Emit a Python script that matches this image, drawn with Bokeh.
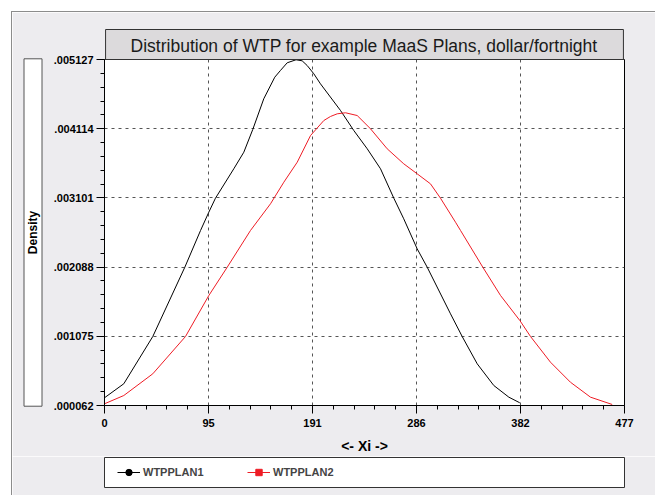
import numpy as np
from bokeh.plotting import figure
from bokeh.models import Range1d, FixedTicker, Legend, LegendItem, Title, Column
from bokeh.embed import file_html
from bokeh.resources import INLINE

# ---- data ----
x_plan1 = [-9.2, 0.0, 17.7, 44.3, 73.7, 88.1, 95.7, 101.8, 118.6, 127.8, 136.0, 146.1, 156.2,
           161.4, 167.6, 175.7, 181.3, 185.9, 192.0, 198.1, 216.5, 228.7, 241.0, 253.2, 265.4,
           274.5, 286.8, 296.0, 317.4, 328.1, 341.9, 357.1, 370.9, 380.9]
y_plan1 = [0.000091, 0.000175, 0.000380, 0.001072, 0.002087, 0.002624, 0.002892, 0.003097,
           0.003527, 0.003770, 0.004102, 0.004552, 0.004868, 0.004966, 0.005079, 0.005123,
           0.005108, 0.005039, 0.004918, 0.004771, 0.004380, 0.004087, 0.003820, 0.003527,
           0.003097, 0.002795, 0.002356, 0.002087, 0.001404, 0.001072, 0.000672, 0.000355,
           0.000184, 0.000102]
x_plan2 = [-3.7, 0.0, 17.7, 44.3, 74.3, 95.7, 112.6, 133.9, 152.3, 164.5, 176.8, 189.0, 201.2,
           207.3, 213.5, 221.1, 231.8, 244.0, 259.3, 274.5, 286.8, 299.0, 308.2, 322.0, 326.6,
           347.0, 363.3, 381.0, 390.8, 409.1, 427.4, 445.8, 465.7]
y_plan2 = [0.000077, 0.000087, 0.000208, 0.000526, 0.001072, 0.001672, 0.002087, 0.002624,
           0.003015, 0.003331, 0.003624, 0.004014, 0.004234, 0.004293, 0.004332, 0.004347,
           0.004307, 0.004113, 0.003820, 0.003600, 0.003454, 0.003307, 0.003097, 0.002745,
           0.002624, 0.002087, 0.001672, 0.001306, 0.001072, 0.000696, 0.000403, 0.000184,
           0.000077]

series_names = ["WTPPLAN1", "WTPPLAN2"]
x_ticks = [0.0, 95.4, 190.8, 286.2, 381.6, 477.0]
x_tick_labels = ["0", "95", "191", "286", "382", "477"]
y_ticks = [0.000062, 0.001075, 0.002088, 0.003101, 0.004114, 0.005127]
y_tick_labels = [".000062", ".001075", ".002088", ".003101", ".004114", ".005127"]
title_text = "Distribution of WTP for example MaaS Plans, dollar/fortnight"
x_label = "<- Xi ->"
y_label = "Density"

FONT = "Liberation Sans"
PANEL = "#edecef"
RED = "#ee1c25"

p = figure(frame_width=520, frame_height=346, output_backend="svg", toolbar_location=None,
           x_range=Range1d(x_ticks[0], x_ticks[-1]), y_range=Range1d(y_ticks[0], y_ticks[-1]),
           min_border_left=92, min_border_right=31, min_border_top=47, min_border_bottom=0,
           background_fill_color="white", border_fill_color=PANEL)
p.outline_line_color = "black"
p.outline_line_width = 1


def minors(ticks, n=5):
    out = []
    for a, b in zip(ticks[:-1], ticks[1:]):
        out.extend(list(np.linspace(a, b, n + 1)[1:-1]))
    return out


p.xaxis.ticker = FixedTicker(ticks=x_ticks, minor_ticks=minors(x_ticks))
p.yaxis.ticker = FixedTicker(ticks=y_ticks, minor_ticks=minors(y_ticks))
p.xaxis.major_label_overrides = dict(zip(x_ticks, x_tick_labels))
p.yaxis.major_label_overrides = dict(zip(y_ticks, y_tick_labels))

for ax in (p.xaxis[0], p.yaxis[0]):
    ax.axis_line_color = "black"
    ax.major_tick_line_color = "black"
    ax.minor_tick_line_color = "black"
    ax.major_tick_in = 0
    ax.major_tick_out = 8
    ax.minor_tick_in = 0
    ax.minor_tick_out = 4
    ax.major_label_text_font = FONT
    ax.major_label_text_font_style = "bold"
    ax.major_label_text_font_size = "11px"
    ax.major_label_text_color = "black"

p.xaxis.major_label_standoff = 5
p.yaxis.major_label_standoff = 3
p.xaxis.axis_label = x_label
p.xaxis.axis_label_text_font = FONT
p.xaxis.axis_label_text_font_style = "bold"
p.xaxis.axis_label_text_font_size = "14px"
p.xaxis.axis_label_text_color = "black"
p.xaxis.axis_label_standoff = 8

for g in (p.xgrid[0], p.ygrid[0]):
    g.grid_line_color = "#555555"
    g.grid_line_dash = "3 4"
    g.grid_line_width = 1

# curves
p.line(x_plan1, y_plan1, line_color="black", line_width=1)
p.scatter(x_plan1[:1], y_plan1[:1], marker="circle", size=3, fill_color="black", line_color="black")
p.line(x_plan2, y_plan2, line_color=RED, line_width=1)
p.scatter(x_plan2[:1], y_plan2[:1], marker="square", size=3, fill_color=RED, line_color=RED)

# title bar
title = Title(text=title_text, align="center", text_font=FONT, text_font_size="17.5px",
              text_font_style="normal", text_color="#1a1a1a", background_fill_color="#dcdadc",
              border_line_color="#333333", padding=dict(left=25, right=26, top=6, bottom=4),
              standoff=0, offset=0)
p.add_layout(title, "above")

# boxed y label (box length made with no-break spaces)
NB = "\u00a0" * 45
ytitle = Title(text=NB + y_label + NB, align="center", text_font=FONT, text_font_size="12px",
               text_font_style="bold", text_color="black", background_fill_color="white",
               border_line_color="#555555", padding=2, standoff=17, offset=0)
p.add_layout(ytitle, "left")

# ---- legend bar: a small figure whose frame is the legend box ----
q = figure(frame_width=520, frame_height=30, output_backend="svg", toolbar_location=None,
           x_range=Range1d(0, 1), y_range=Range1d(0, 1), x_axis_type=None, y_axis_type=None,
           min_border_left=92, min_border_right=31, min_border_top=1, min_border_bottom=8,
           background_fill_color="white", border_fill_color=PANEL)
q.grid.visible = False
q.outline_line_color = "#333333"
# legend-only renderers: their single point sits outside the legend frame's range
off = [5.0]
k1 = q.line(off, off, line_color="black", line_width=1)
k1m = q.scatter(off, off, marker="circle", size=4, fill_color="black", line_color="black")
k2 = q.line(off, off, line_color=RED, line_width=1)
k2m = q.scatter(off, off, marker="square", size=4, fill_color=RED, line_color=RED)
legend = Legend(items=[LegendItem(label=series_names[0], renderers=[k1, k1m]),
                       LegendItem(label=series_names[1], renderers=[k2, k2m])],
                orientation="horizontal", location=(13, 7), margin=0, padding=0,
                spacing=4, glyph_width=23, glyph_height=16, label_height=16, label_width=100,
                label_standoff=3, border_line_color=None, background_fill_alpha=0,
                label_text_font=FONT, label_text_font_style="bold", label_text_font_size="11px")
q.add_layout(legend)

layout = Column(children=[p, q], spacing=0,
                styles={"margin-left": "11px", "margin-top": "11px",
                        "border-left": "1px solid #8c8c8c", "border-top": "1px solid #8c8c8c"})

open("out.html", "w").write(file_html(layout, INLINE))
